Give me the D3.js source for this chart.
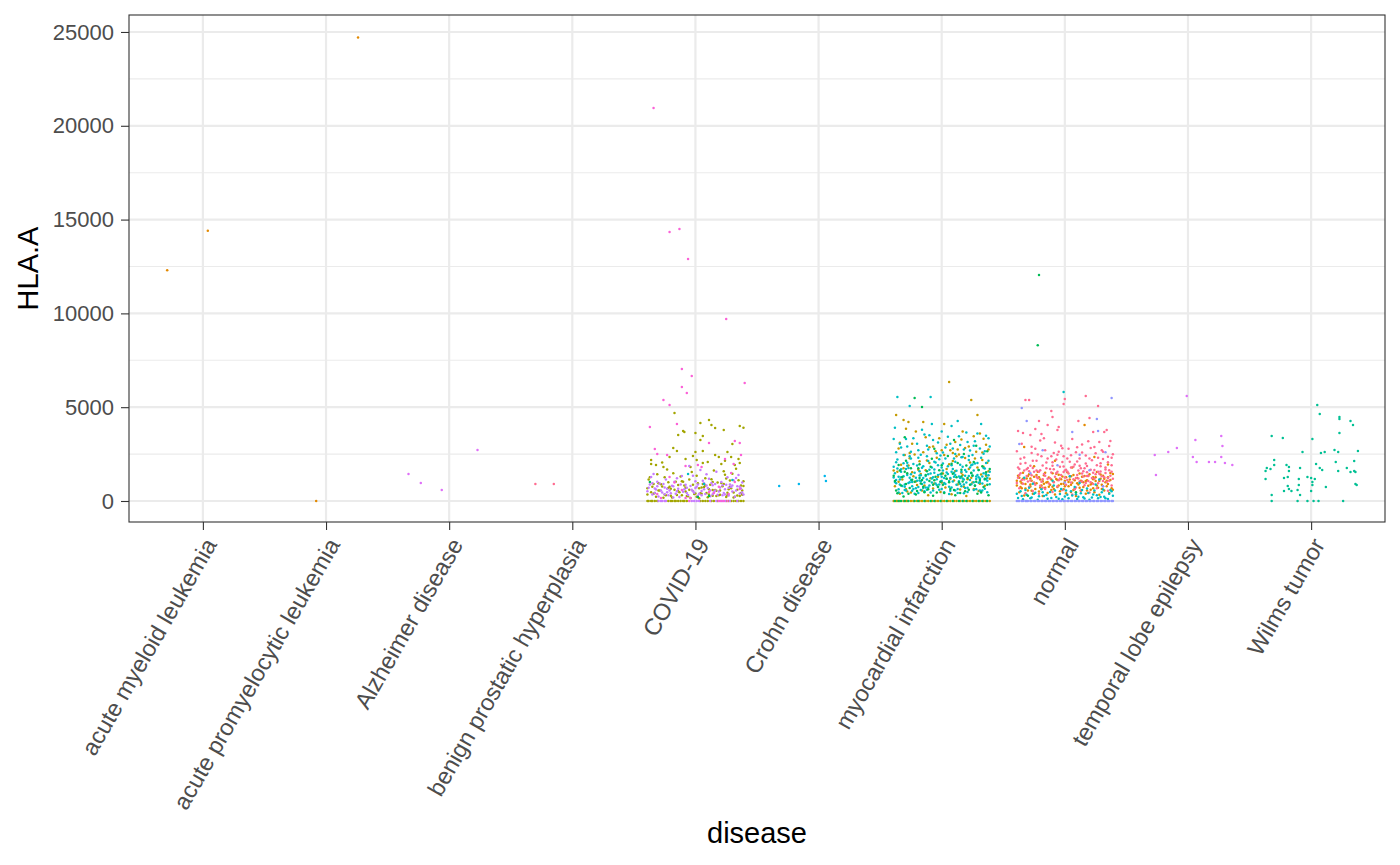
<!DOCTYPE html>
<html>
<head>
<meta charset="utf-8">
<script src="https://cdn.jsdelivr.net/npm/d3@7"></script>
<style>
  body { margin: 0; background: #fff; }
  text { font-family: "Liberation Sans", Arial, sans-serif; }
</style>
</head>
<body>
<div class="canva"></div>
<script>
// categories on the x axis
const diseases = ["acute myeloid leukemia", "acute promyelocytic leukemia", "Alzheimer disease",
  "benign prostatic hyperplasia", "COVID-19", "Crohn disease", "myocardial infarction",
  "normal", "temporal lobe epilepsy", "Wilms tumor"];

const yTicks = [0, 5000, 10000, 15000, 20000, 25000];
const yMinor = [2500, 7500, 12500, 17500, 22500];

// points: [jitter offset in % of a category step, HLA.A value]
const amlOrange = [[-29, 12300], [4, 14400]];
const aplOrange = [[-8, 0], [26, 24700]];
const alzViolet = [[-33, 1440], [-23, 960], [-6, 590], [23, 2720]];
const bphPink = [[-30, 910], [-15, 910]];
const crohnSky = [[-32, 800], [-16, 910], [5, 1330], [6, 1070]];

const covidOlive = [[-17,4690],[-10,3730],[-9,3680],[-14,3520],[0,3620],[4,4160],[13,4050],[16,3890],[23,3780],[36,4000],
  [6,3460],[4,3250],[30,3040],[-18,2830],[-15,2670],[0,2610],[6,2670],[26,2610],[16,2450],[-36,2190],[-8,2240],[-2,2400],
  [19,2350],[29,2350],[35,2240],[-36,1970],[-32,1920],[-26,1810],[-4,1810],[1,2190],[6,2030],[10,2080],[21,1970],[32,1920],
  [36,2030],[11,4320],[39,3900],[-27,2050],[24,2150],[-21,2350],
  [-38,1150],[-35,760],[-33,420],[-31,1420],[-29,560],[-28,890],[-24,310],[-23,1680],[-20,650],[-19,180],[-16,1020],[-13,470],
  [-12,1300],[-9,820],[-7,260],[-5,600],[-3,1540],[-1,370],[2,940],[3,150],[5,720],[8,1210],[9,430],[12,860],[14,280],[15,1630],
  [17,540],[18,990],[20,330],[22,780],[24,1400],[25,210],[27,620],[28,1090],[31,450],[33,1720],[34,290],[37,830],[38,560],
  [-37,1260],[-34,380],[-30,940],[-26,170],[-22,690],[-18,1480],[-15,320],[-11,1050],[-8,510],[-6,250],[-2,870],[1,1350],
  [4,410],[7,740],[10,200],[13,1160],[16,580],[19,300],[21,960],[23,1590],[26,440],[29,680],[32,230],[35,1110],[39,800],
  [-39,350],[-25,1270],[-14,520],[-4,160],[6,910],[11,620],[30,1450],[36,270],[-21,760],[-10,1030],[0,400],[14,590],[25,1200],[38,330],
  [-39,680],[-36,470],[-34,910],[-32,220],[-30,560],[-27,770],[-25,340],[-22,1000],[-20,280],[-17,600],[-14,850],[-11,300],
  [-8,700],[-5,1150],[-2,530],[1,220],[3,680],[5,390],[8,820],[11,340],[14,1010],[17,260],[20,560],[23,900],[26,310],[28,760],
  [31,180],[34,600],[37,420],[39,1050]];
const covidOliveZero = [-39,-38,-36,-35,-33,-31,-22,-20,-19,-17,-16,-14,-12,-10,-9,-7,4,6,8,10,13,15,18,25,27,29,31,33,35,37,39];
const covidLavender = [[-39,520],[-37,880],[-36,1280],[-35,350],[-34,1440],[-32,610],[-30,240],[-29,930],[-27,450],[-25,720],
  [-24,1150],[-22,300],[-21,560],[-19,810],[-17,1020],[-16,380],[-14,650],[-13,210],[-11,1330],[-10,490],[-8,870],[-6,320],
  [-5,1870],[-3,600],[-1,440],[0,1050],[1,760],[2,280],[4,1650],[5,530],[7,950],[8,370],[10,690],[11,1180],[12,250],[14,840],
  [15,460],[17,1560],[18,330],[20,720],[21,1010],[23,420],[24,620],[26,1270],[27,290],[28,880],[30,510],[31,1100],[32,230],
  [34,780],[35,1390],[36,400],[37,660],[38,980],[39,340],[-31,1020],[-23,470],[-15,1210],[-7,700],[3,380],[9,1420],[16,560],
  [22,300],[29,740],[33,1230],[-18,180],[13,960],[-2,1340],[25,860],[-33,670],
  [-38,700],[-35,950],[-33,430],[-31,790],[-28,560],[-26,900],[-23,650],[-20,410],[-18,780],[-15,520],[-12,880],[-9,620],
  [-7,430],[-4,800],[-2,520],[0,690],[2,880],[5,300],[7,630],[9,820],[12,560],[14,360],[16,900],[19,510],[22,840],[24,350],
  [27,700],[30,830],[33,560],[36,760],[38,450],[-25,360],[6,1080]];
const covidLavenderZero = [-30,-28,-27,-25,-24,-3,-1,1,3,12,17,20,22,24,28,34];
const covidMagenta = [[-34,20950],[-21,14340],[-13,14500],[-6,12900],[25,9700],[-11,7040],[-3,6660],[-11,6080],[-7,5760],
  [-26,5380],[-21,5120],[40,6290],[-15,4100],[-37,3950],[-33,2770],[-31,2500],[-23,2450],[11,3090],[32,3200],[36,3090],
  [37,2450],[-8,1870],[2,1920],[24,2240],[31,1970],[29,1490],[32,1010],[-28,160],[-8,160],[-4,160],[11,480],[15,430],
  [27,370],[36,640],[-11,590],[-21,1280],[-31,370],[5,1810],[19,760],[-17,980]];
const covidMagentaZero = [-5,19,21,23,26];
const covidTeal = [[-6,1440],[7,910],[30,1120]];
const covidGreen = [[-37,1010],[2,210],[11,270]];

const miTeal = [[-36,5540],[-9,5540],[-26,5060],[13,4260],[-8,4100],[32,4100],[-38,3900],[20,3650],[-14,3550],[36,3480],
  [5,3420],[-29,3300],[27,3180],[-3,3120],[-20,3050],[15,2980],[39,2900],[-33,2850],[9,2800],[-11,2750],[23,2690],[-25,2620],
  [1,2580],[34,2520],[-17,2470],
  [-37,2600],[-34,3050],[-31,2450],[-28,2900],[-23,3350],[-19,2700],[-16,3800],[-12,2950],[-7,3250],[-4,2550],[0,3700],
  [3,2850],[7,3050],[11,2500],[14,3450],[18,2750],[21,3150],[25,2450],[29,3600],[31,2800],[35,2650],[38,3350],[-39,3300],
  [-26,2380],[-1,2420],[16,2330],[26,2950],[-10,3500],[8,4000],[22,2400],
  [-39,1820],[-37,940],[-38,1480],[-35,620],[-36,2210],[-34,1150],[-32,430],[-33,1690],[-30,880],[-31,1320],[-28,2040],
  [-29,560],[-26,1240],[-27,1760],[-24,790],[-25,1430],[-22,380],[-23,1970],[-20,1080],[-21,680],[-18,1590],[-19,2300],
  [-16,910],[-17,1370],[-14,520],[-15,1850],[-12,1140],[-13,720],[-10,1660],[-11,2130],[-8,980],[-9,450],[-6,1510],[-7,1260],
  [-4,850],[-5,2050],[-2,600],[-3,1390],[0,1780],[-1,1020],[2,470],[1,1620],[4,1180],[3,2260],[6,760],[5,1440],[8,1900],
  [7,540],[10,1290],[9,1700],[12,860],[11,2090],[14,1050],[13,640],[16,1560],[15,1230],[18,410],[17,1830],[20,990],[19,1350],
  [22,2180],[21,700],[24,1480],[23,1120],[26,580],[25,1940],[28,1310],[27,820],[30,1650],[29,2020],[32,490],[31,1200],
  [34,1760],[33,930],[36,1420],[35,650],[38,2150],[37,1080],[39,1560],[-37,1120],[-33,1560],[-28,1880],[-24,1010],[-19,740],
  [-15,1230],[-11,1430],[-6,1680],[-2,880],[2,960],[6,1060],[11,1380],[15,900],[19,1650],[24,1900],[28,1170],[33,1310],
  [37,1240],[-30,760],[-8,1200],[8,1560],[30,970],[-35,1290],[-17,1050],[0,1290],[17,1200],[35,1150],
  [-38,1010],[-36,1730],[-35,450],[-33,1270],[-31,2010],[-30,590],[-28,1380],[-27,960],[-25,2260],[-24,540],[-22,1510],
  [-21,1240],[-19,420],[-18,1090],[-16,1770],[-15,690],[-13,1330],[-12,2390],[-10,820],[-9,1460],[-7,560],[-6,2090],
  [-4,1160],[-3,740],[-1,1430],[0,640],[1,2000],[3,910],[4,1520],[6,370],[7,1230],[9,1040],[10,2270],[12,1610],[13,420],
  [14,1310],[16,780],[17,2350],[18,1140],[20,1560],[21,480],[23,1790],[24,890],[25,1350],[27,2000],[28,620],[29,1390],
  [31,1010],[32,2300],[33,560],[35,1730],[36,1170],[37,460],[39,890],[-39,1250],[-34,880],[-29,1700],[-26,1000],[-23,640],
  [-20,1890],[-17,580],[-14,990],[-11,720],[-8,1780],[-5,930],[-2,2220],[2,1220],[5,1850],[8,720],[11,560],[15,1930],
  [19,690],[22,1330],[26,1000],[30,1260],[34,1480],[38,1370],[-37,2060],[-32,800],[-18,1360],[-3,1910],[10,1500],[26,1620],
  [36,2020],[0,1060],[-12,600],[18,880],[-25,1120],[31,560]];
const miGreen = [[-22,5490],[-16,5010],[-30,3400],[10,3250],[28,2950],[-6,2780],[37,2650],[18,2500],
  [-39,1350],[-37,560],[-35,1920],[-33,820],[-31,240],[-28,1480],[-26,690],[-24,1130],[-21,350],[-19,1740],[-17,930],
  [-14,470],[-12,1580],[-10,1060],[-7,280],[-5,1290],[-3,760],[0,1910],[2,420],[4,1180],[7,640],[9,1450],[11,300],[14,990],
  [16,1670],[19,520],[21,1230],[23,870],[26,2080],[29,390],[31,1120],[34,740],[36,1530],[38,310],[-8,2250],[13,2020],
  [-29,2150],[33,1850],[5,2400],[-18,1230],[24,1510],[-1,1020],
  [-38,1060],[-36,410],[-34,1620],[-32,1280],[-29,900],[-27,380],[-25,1750],[-22,1030],[-20,530],[-18,1960],[-15,760],
  [-13,1380],[-11,620],[-9,1820],[-6,1110],[-4,450],[-2,1640],[1,870],[3,1350],[6,1000],[8,1990],[10,580],[12,1260],[15,430],
  [17,1040],[20,1890],[22,600],[25,1360],[27,810],[30,1650],[32,450],[35,1190],[37,870],[39,1710],[-30,1560],[-16,1120],
  [0,1460],[16,1310],[28,1020],[-7,870]];
const miGreenZero = [-38,-35,-33,-30,-27,-22,-19,-14,-9,-6,-1,4,9,14,17,20,25,30,33,37];
const miGold = [[6,6340],[24,5380],[-37,4580],[29,4580],[-31,4320],[-27,4210],[-15,4210],[2,4100],[-21,3700],[31,3600],
  [-2,3350],[16,3280],[-34,3100],[22,2900],[-10,2860],[38,2740],[7,2700],[-26,2560],
  [-35,2800],[-22,2480],[-13,3400],[-5,2650],[4,3000],[9,2560],[17,3700],[26,3450],[33,2580],[36,3000],[-29,3850],[13,2750],
  [-38,780],[-36,1560],[-34,380],[-32,1140],[-29,620],[-27,1890],[-25,450],[-23,1320],[-20,850],[-18,2120],[-16,560],
  [-13,1640],[-11,300],[-9,1210],[-6,930],[-4,2310],[-1,480],[1,1470],[3,720],[6,1960],[8,360],[10,1090],[12,2380],[15,610],
  [17,1380],[20,270],[22,1700],[25,980],[27,2260],[30,530],[32,1410],[35,810],[37,2040],[39,1190],[-30,2450],[-15,2600],
  [0,2700],[14,2480],[28,2620],[-24,3050],[11,3150],[34,3320],[-7,2900],[19,2820],
  [-39,1630],[-35,1020],[-31,1750],[-28,510],[-24,1530],[-21,1040],[-17,1440],[-14,820],[-10,2030],[-7,660],[-3,1290],
  [0,990],[4,1710],[7,1190],[9,2130],[13,880],[16,1500],[18,760],[21,1160],[23,2050],[26,640],[29,1790],[31,920],[33,2180],
  [36,1340],[38,1590],[-26,2280],[-12,2160],[2,2450],[19,2290],[-33,1930],[11,1600],[24,1240],[-19,1660],[34,1830]];
const miGoldZero = [-39,-37,-36,-34,-31,-29,-28,-25,-23,-20,-18,-16,-13,-11,-8,-5,-3,0,2,5,7,10,12,15,18,21,23,26,28,31,34,36,39];

const normalPink = [[0,5440],[-1,5170],[-32,5380],[-29,5380],[17,5600],[27,5060],[-11,4800],[-10,4480],[-21,4260],[20,4420],
  [11,4260],[-14,4050],[-5,3940],[-24,3840],[-38,3730],[-34,3620],[-28,3520],[-19,3570],[-6,3780],[23,3680],[32,3680],
  [34,3780],[37,3200],
  [-39,2650],[-36,1980],[-35,3050],[-33,2320],[-30,1760],[-27,2890],[-26,2140],[-23,1620],[-22,2480],[-20,3230],[-18,1890],
  [-16,2710],[-15,2050],[-12,1700],[-9,2560],[-8,3120],[-7,2210],[-4,1830],[-3,2940],[-1,2390],[1,1670],[3,2780],[4,2090],
  [6,3310],[8,1950],[9,2600],[12,2260],[13,1740],[14,3010],[17,2420],[18,1860],[21,2830],[22,2170],[24,1650],[25,2550],
  [28,3150],[29,2010],[30,2700],[33,1790],[35,2360],[36,2930],[38,1910],[39,2490],[-29,1580],[-11,2380],[10,2870],
  [-37,1700],[27,1560],[-24,2790],[15,1590],[-5,2620],[31,2240],[-17,3350],[19,3180],[-2,2080],
  [-36,2250],[-32,2020],[-27,2560],[-23,2140],[-19,2380],[-14,2260],[-10,2060],[-6,2470],[-2,2810],[2,2260],[5,2440],
  [10,2110],[14,2580],[17,2000],[20,2260],[24,2880],[27,2310],[31,2620],[35,2060],[38,2300],
  [-38,1240],[-37,680],[-36,1480],[-34,920],[-32,410],[-31,1330],[-29,760],[-28,1090],[-26,530],[-25,1560],[-24,870],
  [-22,1210],[-21,380],[-19,1020],[-17,1440],[-16,640],[-14,1180],[-13,930],[-11,1520],[-10,480],[-8,1290],[-6,790],
  [-5,1100],[-3,1390],[-2,580],[0,1250],[1,860],[3,1470],[5,990],[6,350],[7,1160],[9,720],[10,1380],[12,1040],[13,560],
  [15,1300],[16,840],[18,1530],[19,1070],[20,450],[22,1220],[23,910],[25,1420],[26,680],[28,1130],[29,1570],[31,780],
  [32,1260],[34,1010],[35,540],[37,1350],[38,820],[39,1180],[-39,960],[-27,1370],[-18,700],[-9,1000],[-1,1540],[8,620],
  [14,1460],[21,1000],[27,940],[33,1490],[36,1080],[-33,1150],[-20,810],[2,1120],[17,960],[30,1320],[11,1200],
  [-38,1780],[-35,1120],[-33,1630],[-30,1040],[-28,1880],[-25,990],[-23,1290],[-20,1640],[-18,1160],[-15,1740],[-12,1210],
  [-9,1690],[-7,1480],[-4,1200],[-1,1840],[2,1570],[4,1300],[7,1820],[9,1230],[11,1620],[14,1040],[16,1750],[19,1340],
  [21,1660],[24,1180],[26,1900],[28,1450],[31,1070],[33,1680],[35,1220],[38,1560],[-37,1380],[-31,1690],[-26,1760],
  [-21,1560],[-16,1350],[-10,1880],[-6,1560],[0,1630],[5,1790],[12,1880],[18,1330],[23,1510],[29,1850],[36,1640]];
const normalOrange = [[16,4050],[-33,2880],[24,2350],[-8,2150],[35,1950],[-25,1850],[6,1780],
  [-39,820],[-38,1350],[-37,460],[-36,1040],[-35,680],[-34,1510],[-33,290],[-32,910],[-31,1200],[-30,560],[-29,1430],
  [-28,770],[-27,1080],[-26,380],[-25,1290],[-24,640],[-23,950],[-22,1560],[-21,510],[-20,1140],[-19,830],[-18,260],
  [-17,1370],[-16,700],[-15,990],[-14,430],[-13,1250],[-12,860],[-11,590],[-10,1480],[-9,1010],[-8,340],[-7,1170],[-6,740],
  [-5,1400],[-4,520],[-3,900],[-2,1310],[-1,620],[0,1060],[1,410],[2,1530],[3,790],[4,1150],[5,480],[6,970],[7,1380],
  [8,650],[9,270],[10,1220],[11,880],[12,1460],[13,540],[14,1030],[15,750],[16,1330],[17,390],[18,1100],[19,810],[20,1420],
  [21,600],[22,940],[23,1270],[24,460],[25,1060],[26,1550],[27,710],[28,330],[29,1190],[30,870],[31,1350],[32,560],
  [33,1000],[34,780],[35,1260],[36,420],[37,1120],[38,680],[39,1440],[-36,740],[-28,1200],[-17,920],[-6,1120],[5,860],
  [13,1080],[23,680],[34,1080],[-10,760],[18,560],
  [-39,1080],[-37,1240],[-35,940],[-32,660],[-30,1330],[-27,550],[-25,960],[-23,1390],[-20,720],[-18,1050],[-16,1500],
  [-13,760],[-11,1150],[-9,640],[-7,1450],[-5,820],[-3,1160],[-1,920],[1,1260],[3,1010],[5,1320],[7,580],[10,940],[12,700],
  [14,1290],[17,1060],[19,1330],[21,880],[23,1160],[26,830],[28,1060],[30,640],[32,1180],[35,910],[37,1490],[39,600],
  [-28,880],[-14,1010],[0,790],[15,1000],[29,1410],[-21,1270],[8,1100],[25,1260],[-34,1180]];
const normalTeal = [[-1,5810],[-38,160],[-36,520],[-34,90],[-31,330],[-29,710],[-27,180],[-24,440],[-22,60],[-19,620],
  [-17,260],[-14,120],[-12,480],[-9,830],[-7,210],[-4,370],[-2,90],[1,560],[3,140],[6,290],[8,750],[10,110],[13,410],
  [15,200],[18,660],[20,70],[23,340],[25,880],[27,150],[30,460],[32,230],[35,100],[37,590],[39,280],[-26,920],[-10,1080],
  [12,960],[28,1150],[-33,1240],[4,1320],
  [-39,380],[-35,260],[-32,580],[-28,140],[-25,380],[-21,250],[-18,460],[-15,320],[-11,160],[-8,560],[-5,120],[-3,640],
  [0,240],[2,330],[5,520],[9,360],[11,220],[14,580],[16,130],[19,420],[22,190],[24,560],[26,300],[29,210],[31,610],[33,140],
  [36,380],[38,520]];
const normalBlue = [[38,5490],[-35,4960],[-31,4260],[26,4370],[6,3680],[27,3730],[-37,3040],[-18,2700],[12,2460],
  [33,2600],[-6,1900],[20,1640],[-28,1480],[0,980],[31,780]];
const normalBlueZero = [-39,-38,-37,-35,-34,-32,-31,-30,-28,-27,-25,-24,-22,-21,-19,-18,-16,-15,-13,-12,-10,-9,-7,-6,
  -4,-3,-1,0,2,3,5,6,8,9,11,12,14,15,17,18,20,21,23,24,26,27,29,30,32,33,35,36,38,39];
const normalGreen = [[-21,12050],[-22,8300],[9,470],[-30,280]];

const tleViolet = [[-1,5600],[27,3470],[6,3250],[28,2930],[-9,2830],[-16,2610],[-27,2450],[4,2350],[27,2350],[7,2080],
  [17,2080],[22,2080],[30,2030],[36,1920],[-26,1390]];
const wilmsTeal = [[5,5120],[7,4640],[23,4480],[23,4370],[32,4260],[34,4050],[23,3620],[-32,3470],[-23,3360],[1,3300],
  [19,2720],[22,2610],[38,2670],[-7,2610],[11,2610],[8,2560],[-30,2190],[20,2080],[35,2130],[4,1970],[-30,1920],[-20,1920],
  [-18,1810],[-36,1760],[-9,1760],[7,1760],[29,1760],[-33,1710],[-18,1600],[-37,1600],[9,1650],[22,1600],[32,1550],[35,1600],
  [36,1550],[-3,1280],[-22,1230],[-19,1280],[-10,1170],[0,1230],[3,1170],[-37,1170],[1,1010],[1,850],[36,910],[37,850],
  [-10,850],[-19,800],[12,750],[-18,640],[-16,530],[-22,530],[-11,590],[0,530],[-9,320],[-32,320],
  [-32,0],[-11,0],[-3,0],[2,0],[6,0],[26,0]];

// ggplot-style hue colours for the colouring variable
const palette = {
  orange: "#E38900", gold: "#C49A00", olive: "#A3A500", green: "#00BC56", tealgreen: "#00C094",
  teal: "#00BFC4", sky: "#00B6EB", blue: "#8F95FF", lavender: "#C77CFF", violet: "#DF70F8",
  magenta: "#FB61D7", pink: "#FF6C91"
};

const zeros = offs => offs.map(o => [o, 0]);

const series = [
  {disease: diseases[0], colour: "orange", points: amlOrange},
  {disease: diseases[1], colour: "orange", points: aplOrange},
  {disease: diseases[2], colour: "violet", points: alzViolet},
  {disease: diseases[3], colour: "pink", points: bphPink},
  {disease: diseases[4], colour: "olive", points: covidOlive.concat(zeros(covidOliveZero))},
  {disease: diseases[4], colour: "lavender", points: covidLavender.concat(zeros(covidLavenderZero))},
  {disease: diseases[4], colour: "magenta", points: covidMagenta.concat(zeros(covidMagentaZero))},
  {disease: diseases[4], colour: "teal", points: covidTeal},
  {disease: diseases[4], colour: "green", points: covidGreen},
  {disease: diseases[5], colour: "sky", points: crohnSky},
  {disease: diseases[6], colour: "gold", points: miGold.concat(zeros(miGoldZero))},
  {disease: diseases[6], colour: "teal", points: miTeal},
  {disease: diseases[6], colour: "green", points: miGreen.concat(zeros(miGreenZero))},
  {disease: diseases[7], colour: "orange", points: normalOrange},
  {disease: diseases[7], colour: "pink", points: normalPink},
  {disease: diseases[7], colour: "teal", points: normalTeal},
  {disease: diseases[7], colour: "blue", points: normalBlue.concat(zeros(normalBlueZero))},
  {disease: diseases[7], colour: "green", points: normalGreen},
  {disease: diseases[8], colour: "violet", points: tleViolet},
  {disease: diseases[9], colour: "tealgreen", points: wilmsTeal}
];

const rows = [];
series.forEach(s => s.points.forEach(p => rows.push({disease: s.disease, colour: s.colour, jit: p[0], value: p[1]})));

const W = 1400, H = 865;
const panel = {left: 129, right: 1385, top: 15, bottom: 522};

const svg = d3.select(".canva").append("svg")
  .attr("width", W)
  .attr("height", H);

const x = d3.scalePoint().domain(diseases).range([panel.left, panel.right]).padding(0.6);
const y = d3.scaleLinear().domain([-1120, 25905]).range([panel.bottom, panel.top]);

// panel background + grid
svg.append("rect")
  .attr("x", panel.left).attr("y", panel.top)
  .attr("width", panel.right - panel.left).attr("height", panel.bottom - panel.top)
  .attr("fill", "#fff");

svg.append("g").selectAll("line").data(yMinor).enter().append("line")
  .attr("x1", panel.left).attr("x2", panel.right)
  .attr("y1", d => y(d)).attr("y2", d => y(d))
  .attr("stroke", "#EBEBEB").attr("stroke-width", 1.1);

svg.append("g").selectAll("line").data(yTicks).enter().append("line")
  .attr("x1", panel.left).attr("x2", panel.right)
  .attr("y1", d => y(d)).attr("y2", d => y(d))
  .attr("stroke", "#EBEBEB").attr("stroke-width", 2.2);

svg.append("g").selectAll("line").data(diseases).enter().append("line")
  .attr("x1", d => x(d)).attr("x2", d => x(d))
  .attr("y1", panel.top).attr("y2", panel.bottom)
  .attr("stroke", "#EBEBEB").attr("stroke-width", 2.2);

// jittered points
svg.append("g").selectAll("circle").data(rows).enter().append("circle")
  .attr("cx", d => x(d.disease) + d.jit / 100 * x.step())
  .attr("cy", d => y(d.value))
  .attr("r", 1.25)
  .attr("fill", d => palette[d.colour]);

// border on top
svg.append("rect")
  .attr("x", panel.left).attr("y", panel.top)
  .attr("width", panel.right - panel.left).attr("height", panel.bottom - panel.top)
  .attr("fill", "none").attr("stroke", "#333333").attr("stroke-width", 1.1);

// y axis
const yAxis = svg.append("g")
  .attr("transform", `translate(${panel.left},0)`)
  .call(d3.axisLeft(y).tickValues(yTicks).tickSize(8).tickPadding(7).tickFormat(d3.format("d")));
yAxis.select(".domain").remove();
yAxis.selectAll(".tick line").attr("stroke", "#333333").attr("stroke-width", 1.1);
yAxis.selectAll(".tick text").attr("fill", "#4D4D4D").style("font-size", "22px")
  .style("font-family", "'Liberation Sans', Arial, sans-serif");

// x axis
const xAxis = svg.append("g")
  .attr("transform", `translate(0,${panel.bottom})`)
  .call(d3.axisBottom(x).tickSize(8).tickFormat(""));
xAxis.select(".domain").remove();
xAxis.selectAll(".tick line").attr("stroke", "#333333").attr("stroke-width", 1.1);

svg.append("g").selectAll("text").data(diseases).enter().append("text")
  .attr("transform", d => `translate(${x(d)},${panel.bottom + 14}) rotate(-60)`)
  .attr("text-anchor", "end")
  .attr("dy", "0.72em")
  .attr("fill", "#4D4D4D")
  .style("font-size", "23.5px")
  .text(d => d);

// axis titles
svg.append("text")
  .attr("x", (panel.left + panel.right) / 2)
  .attr("y", 843)
  .attr("text-anchor", "middle")
  .style("font-size", "29px")
  .text("disease");

svg.append("text")
  .attr("transform", `translate(38,${(panel.top + panel.bottom) / 2}) rotate(-90)`)
  .attr("text-anchor", "middle")
  .style("font-size", "29px")
  .text("HLA.A");
</script>
</body>
</html>
